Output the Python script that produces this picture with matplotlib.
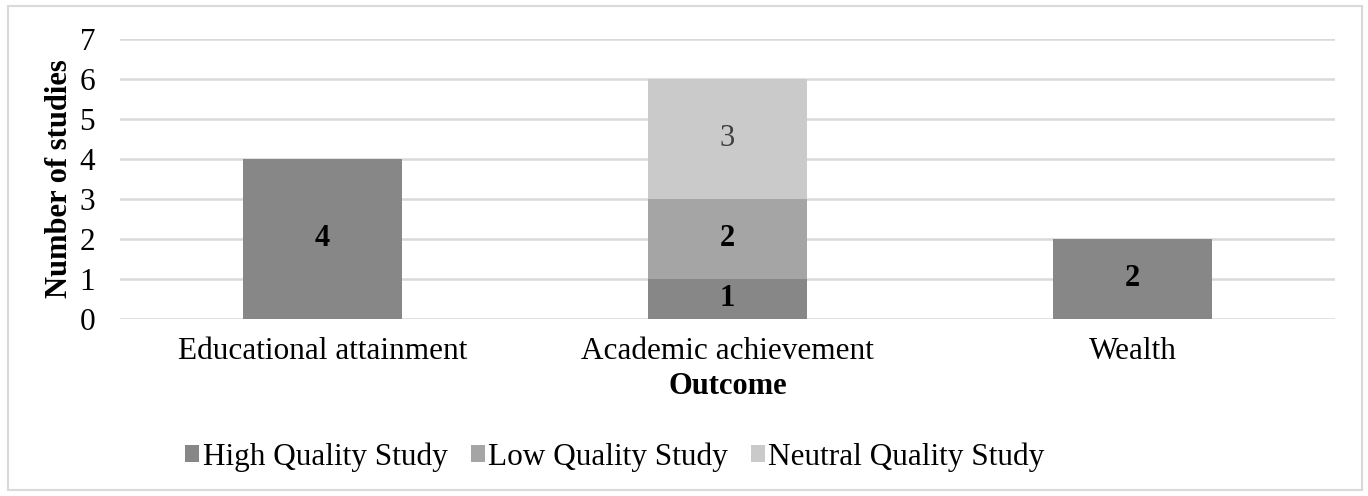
import numpy as np
import matplotlib.pyplot as plt
from matplotlib.patches import Rectangle

categories = ["Educational attainment", "Academic achievement", "Wealth"]
high = [4, 1, 2]
low = [0, 2, 0]
neutral = [0, 3, 0]
series_names = ["High Quality Study", "Low Quality Study", "Neutral Quality Study"]

plt.rcParams['font.family'] = ['Liberation Serif', 'DejaVu Serif']

fig = plt.figure(figsize=(13.68, 4.96), dpi=100)
ax = fig.add_axes([120 / 1368, 1 - 319 / 496, 1215 / 1368, 280 / 496])

x = np.arange(len(categories))
w = 0.395
colors = ['#878787', '#a5a5a5', '#cacaca']

b1 = ax.bar(x, high, w, color=colors[0], label=series_names[0], zorder=3)
b2 = ax.bar(x, low, w, bottom=high, color=colors[1], label=series_names[1], zorder=3)
bottom2 = np.array(high) + np.array(low)
b3 = ax.bar(x, neutral, w, bottom=bottom2, color=colors[2], label=series_names[2], zorder=3)

ax.bar_label(b1, labels=[str(v) if v else '' for v in high], label_type='center',
             fontsize=22, fontweight='bold', color='black')
ax.bar_label(b2, labels=[str(v) if v else '' for v in low], label_type='center',
             fontsize=22, fontweight='bold', color='black')
ax.bar_label(b3, labels=[str(v) if v else '' for v in neutral], label_type='center',
             fontsize=22, color='#404040')

ax.set_xlim(-0.5, 2.5)
ax.set_ylim(0, 7)
ax.set_yticks(range(0, 8))
ax.set_xticks(x)
ax.set_xticklabels(categories)
ax.tick_params(axis='both', length=0, labelsize=22.5)
ax.tick_params(axis='y', pad=18)
ax.tick_params(axis='x', pad=13)
ax.grid(axis='y', color='#d9d9d9', linewidth=1.8, zorder=0)
for s in ax.spines.values():
    s.set_visible(False)

ax.set_ylabel("Number of studies", fontsize=22, fontweight='bold', labelpad=4)
ax.set_xlabel("Outcome", fontsize=22, fontweight='bold', labelpad=4)

fig.legend(handles=[b1, b2, b3], loc='center', bbox_to_anchor=(615 / 1368, 1 - 457 / 496),
           ncol=3, frameon=False, fontsize=22.5, handlelength=0.45, handleheight=0.45,
           handletextpad=0.1, columnspacing=0.75)

fig.patches.append(Rectangle((8 / 1368, 6 / 496), 1354 / 1368, 484 / 496,
                             transform=fig.transFigure, fill=False,
                             edgecolor='#d9d9d9', linewidth=1.5))

plt.savefig('out.png')
